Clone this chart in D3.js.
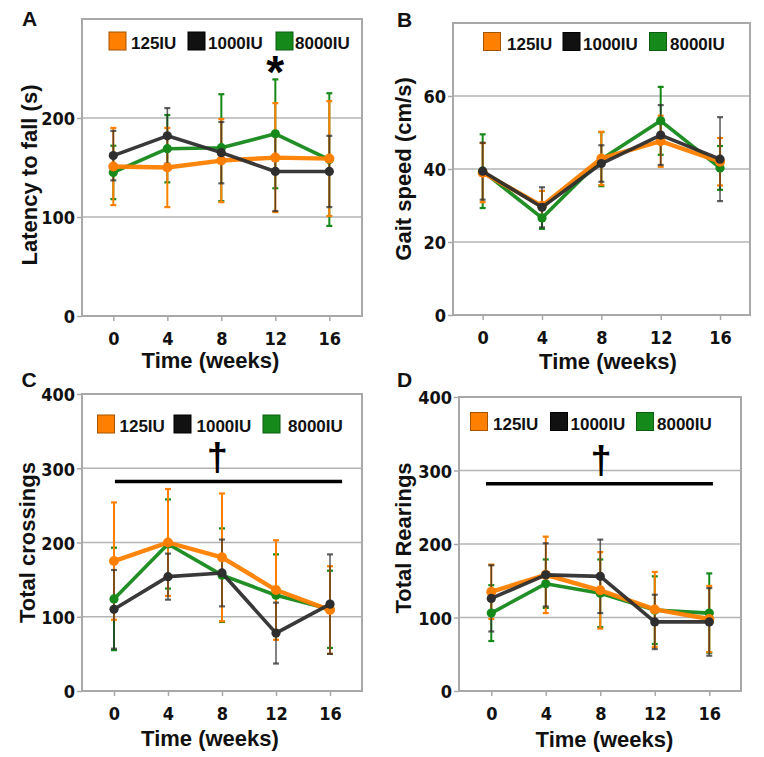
<!DOCTYPE html>
<html><head><meta charset="utf-8">
<script src="https://cdn.jsdelivr.net/npm/d3@7/dist/d3.min.js"></script>
<style>
html,body{margin:0;padding:0;background:#fff;}
svg{display:block;}
</style></head>
<body>
<svg id="chart" width="764" height="757"></svg>
<script>
// ---------- data ----------
const weeks = [0, 4, 8, 12, 16];
const seriesNames = ["125IU", "1000IU", "8000IU"];
const seriesColors = ["#ff8000", "#2e2e2e", "#15891a"];

// A: Latency to fall (s)
const latency125 = [151, 150, 157, 160, 159];
const latency125Err = [39, 40, 42, 55, 58];
const latency1000 = [162, 182, 165, 146, 146];
const latency1000Err = [25, 28, 31, 40, 36];
const latency8000 = [145, 169, 170, 184, 158];
const latency8000Err = [27, 34, 54, 55, 67];

// B: Gait speed (cm/s)
const gait125 = [39.0, 29.9, 42.9, 47.6, 42.0];
const gait125Err = [8.1, 4.1, 7.3, 7.0, 6.5];
const gait1000 = [39.4, 29.5, 41.5, 49.3, 42.7];
const gait1000Err = [7.8, 5.5, 5.0, 8.2, 11.5];
const gait8000 = [39.4, 26.6, 42.7, 53.2, 40.3];
const gait8000Err = [10.1, 3.0, 7.4, 9.3, 6.0];

// C: Total crossings
const cross125 = [175, 200, 180, 136, 109];
const cross125Err = [79, 72, 86, 67, 59];
const cross1000 = [110, 154, 159, 78, 117];
const cross1000Err = [53, 31, 45, 41, 67];
const cross8000 = [124, 198, 156, 129, 110];
const cross8000Err = [69, 60, 63, 55, 52];

// D: Total Rearings
const rear125 = [135, 158, 137, 111, 98];
const rear125Err = [37, 52, 52, 51, 45];
const rear1000 = [126, 158, 156, 94, 94];
const rear1000Err = [45, 43, 50, 37, 46];
const rear8000 = [106, 146, 133, 110, 106];
const rear8000Err = [38, 33, 46, 46, 54];

const yTicksA = [0, 100, 200];
const yTicksB = [0, 20, 40, 60];
const yTicksCD = [0, 100, 200, 300, 400];

// ---------- panel layout ----------
const panels = [
  {letter:"A", letterPos:[22,25.5], frame:{L:82,R:362,T:19,B:316}, xDom:[-2.32,18.42], yDom:[0,300],
   yTicks:yTicksA, yTitle:"Latency to fall (s)", yTitlePos:[37,175], xTitlePos:[210.5,367.5],
   means:[latency125,latency1000,latency8000], errs:[latency125Err,latency1000Err,latency8000Err],
   legend:{sq:[109,188,276], tx:[131,208,295], y:32},
   star:{x:12, y:258}},
  {letter:"B", letterPos:[397,26.5], frame:{L:453,R:750,T:23,B:315}, xDom:[-2.0,18.02], yDom:[0,80],
   yTicks:yTicksB, yTitle:"Gait speed (cm/s)", yTitlePos:[411,169], xTitlePos:[608,369],
   means:[gait125,gait1000,gait8000], errs:[gait125Err,gait1000Err,gait8000Err],
   legend:{sq:[483.5,563,649.5], tx:[507,583,670], y:32.5}},
  {letter:"C", letterPos:[21.5,386.5], frame:{L:82,R:362,T:394,B:691}, xDom:[-2.37,18.37], yDom:[0,400],
   yTicks:yTicksCD, yTitle:"Total crossings", yTitlePos:[35,542.5], xTitlePos:[210,746],
   means:[cross125,cross1000,cross8000], errs:[cross125Err,cross1000Err,cross8000Err],
   legend:{sq:[97.5,174,263], tx:[119.5,196.5,288], y:415},
   sig:{x0:0.07, x1:16.9, y:282, dx:7.65, dy:300}},
  {letter:"D", letterPos:[397,387], frame:{L:459,R:741,T:397,B:691}, xDom:[-2.37,18.33], yDom:[0,400],
   yTicks:yTicksCD, yTitle:"Total Rearings", yTitlePos:[411,538], xTitlePos:[604.5,747],
   means:[rear125,rear1000,rear8000], errs:[rear125Err,rear1000Err,rear8000Err],
   legend:{sq:[470.5,550.5,636.5], tx:[493,570.5,657], y:412.5},
   sig:{x0:-0.39, x1:16.27, y:282, dx:8.05, dy:300}}
];

const svg = d3.select("#chart");
const tickFont = "'Liberation Sans Narrow','Arial Narrow','DejaVu Sans Condensed',sans-serif";
const mainFont = "'Liberation Sans',Arial,Helvetica,sans-serif";
const drawOrder = [2, 0, 1];

panels.forEach(p => {
  const f = p.frame;
  const x = d3.scaleLinear().domain(p.xDom).range([f.L, f.R]);
  const y = d3.scaleLinear().domain(p.yDom).range([f.B, f.T]);
  const g = svg.append("g");

  // gridlines
  g.selectAll("line.grid").data(p.yTicks.filter(t => t > 0 && t < p.yDom[1])).join("line")
    .attr("x1", f.L).attr("x2", f.R).attr("y1", d => y(d)).attr("y2", d => y(d))
    .attr("stroke", "#b4b4b4").attr("stroke-width", 1.3);

  // frame
  g.append("rect").attr("x", f.L).attr("y", f.T).attr("width", f.R - f.L).attr("height", f.B - f.T)
    .attr("fill", "none").attr("stroke", "#a8a8a8").attr("stroke-width", 2);

  // y axis
  const ya = d3.axisLeft(y).tickValues(p.yTicks).tickSize(5).tickPadding(2).tickFormat(d3.format("d"));
  const yg = g.append("g").attr("transform", `translate(${f.L},0)`).call(ya);
  yg.select(".domain").remove();
  yg.selectAll(".tick line").attr("stroke", "#a8a8a8").attr("stroke-width", 1.5);
  yg.selectAll(".tick text").attr("font-family", tickFont).attr("font-weight", "bold")
    .attr("font-size", 18).attr("fill", "#111").attr("dy", "0.38em");

  // x axis
  const xa = d3.axisBottom(x).tickValues(weeks).tickSize(5).tickPadding(11).tickFormat(d3.format("d"));
  const xg = g.append("g").attr("transform", `translate(0,${f.B})`).call(xa);
  xg.select(".domain").remove();
  xg.selectAll(".tick line").attr("stroke", "#a8a8a8").attr("stroke-width", 1.5);
  xg.selectAll(".tick text").attr("font-family", tickFont).attr("font-weight", "bold")
    .attr("font-size", 18).attr("fill", "#111");

  // titles
  g.append("text").attr("x", p.xTitlePos[0]).attr("y", p.xTitlePos[1]).attr("text-anchor", "middle")
    .attr("font-family", mainFont).attr("font-weight", "bold").attr("font-size", 22).attr("fill", "#111")
    .text("Time (weeks)");
  g.append("text").attr("transform", `translate(${p.yTitlePos[0]},${p.yTitlePos[1]}) rotate(-90)`)
    .attr("text-anchor", "middle")
    .attr("font-family", mainFont).attr("font-weight", "bold").attr("font-size", 22).attr("fill", "#111")
    .text(p.yTitle);
  g.append("text").attr("x", p.letterPos[0]).attr("y", p.letterPos[1])
    .attr("font-family", mainFont).attr("font-weight", "bold").attr("font-size", 21).attr("fill", "#111")
    .text(p.letter);

  // error bars
  drawOrder.forEach(si => {
    const col = seriesColors[si];
    const eg = g.append("g").attr("stroke", col)
      .attr("stroke-opacity", si === 1 ? 0.75 : 1);
    weeks.forEach((w, i) => {
      const m = p.means[si][i], e = p.errs[si][i];
      const cx = x(w);
      eg.append("line").attr("x1", cx).attr("x2", cx).attr("y1", y(m - e)).attr("y2", y(m + e))
        .attr("stroke-width", si === 1 ? 1.6 : 2);
      [m - e, m + e].forEach(v => {
        eg.append("line").attr("x1", cx - 3).attr("x2", cx + 3).attr("y1", y(v)).attr("y2", y(v))
          .attr("stroke-width", 2.2);
      });
    });
  });

  // lines and markers
  const line = d3.line().x((d, i) => x(weeks[i])).y(d => y(d));
  drawOrder.forEach(si => {
    const col = seriesColors[si];
    g.append("path").datum(p.means[si]).attr("d", line).attr("fill", "none")
      .attr("stroke", col).attr("stroke-width", si === 0 ? 4.4 : 3.6).attr("stroke-linejoin", "round")
      .attr("stroke-opacity", 0.95);
    g.selectAll(null).data(p.means[si]).join("circle")
      .attr("cx", (d, i) => x(weeks[i])).attr("cy", d => y(d)).attr("r", si === 0 ? 5 : 4.6)
      .attr("fill", col);
  });

  // legend
  seriesNames.forEach((nm, si) => {
    g.append("rect").attr("x", p.legend.sq[si]).attr("y", p.legend.y).attr("width", 17).attr("height", 18)
      .attr("fill", seriesColors[si] === "#2e2e2e" ? "#111" : seriesColors[si])
      .attr("stroke", si === 0 ? "#a65300" : (si === 1 ? "#000" : "#0b5e10")).attr("stroke-width", 1);
    g.append("text").attr("x", p.legend.tx[si]).attr("y", p.legend.y + 17)
      .attr("font-family", mainFont).attr("font-weight", "bold").attr("font-size", 17).attr("fill", "#111")
      .text(nm);
  });

  // significance marks
  if (p.star) {
    g.append("text").attr("x", x(p.star.x)).attr("y", y(p.star.y) + 27).attr("text-anchor", "middle")
      .attr("font-family", mainFont).attr("font-weight", "bold").attr("font-size", 46).attr("fill", "#000")
      .text("*");
  }
  if (p.sig) {
    g.append("line").attr("x1", x(p.sig.x0)).attr("x2", x(p.sig.x1)).attr("y1", y(p.sig.y)).attr("y2", y(p.sig.y))
      .attr("stroke", "#000").attr("stroke-width", 3.5);
    g.append("text").attr("x", x(p.sig.dx)).attr("y", y(p.sig.dy) + 2).attr("text-anchor", "middle")
      .attr("font-family", mainFont).attr("font-weight", "bold").attr("font-size", 38).attr("fill", "#000")
      .text("†");
  }
});
</script>
</body></html>
